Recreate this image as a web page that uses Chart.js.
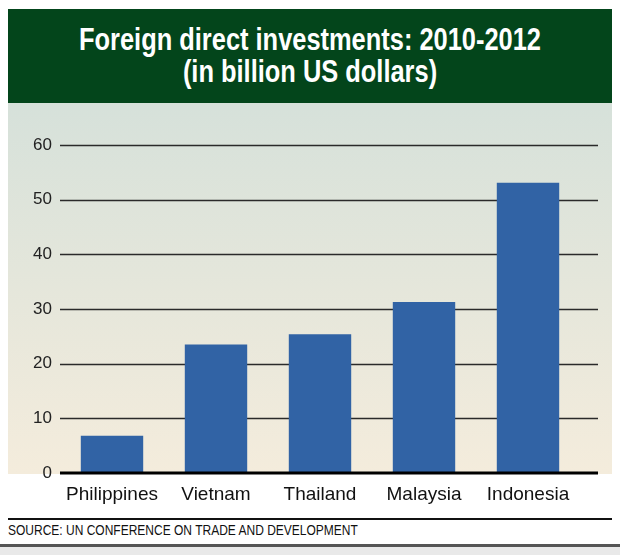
<!DOCTYPE html>
<html>
<head>
<meta charset="utf-8">
<script src="https://cdn.jsdelivr.net/npm/chart.js@4.4.0/dist/chart.umd.min.js"></script>
<style>
  html, body { margin: 0; padding: 0; background: #fff; width: 620px; height: 555px; overflow: hidden; }
  #header {
    position: absolute; left: 8px; top: 9px; width: 604px; height: 94px;
    background: #03451b; color: #fff; text-align: center;
  }
  #header div {
    font-family: "Liberation Sans Narrow", "Liberation Sans", Arial, sans-serif;
    font-weight: bold; font-size: 31px; line-height: 32px;
    transform: scaleX(0.82); transform-origin: center;
  }
  #wrap { position: absolute; left: 0; top: 103px; width: 620px; height: 412px; }
  #rule { position: absolute; left: 8px; top: 518px; width: 604px; height: 2px; background: #111; }
  #source {
    position: absolute; left: 8px; top: 521px; white-space: nowrap;
    font-family: "Liberation Sans", Arial, sans-serif; font-size: 15px; color: #111;
    transform: scaleX(0.8); transform-origin: left;
  }
  #foot { position: absolute; left: 0; top: 544px; width: 620px; height: 11px; background: #e9e9e9; border-top: 3px solid #555; }
</style>
</head>
<body>
<div id="header"><div style="margin-top:15px">Foreign direct investments: 2010-2012</div><div>(in billion US dollars)</div></div>
<div id="wrap"><canvas id="myChart" width="620" height="412"></canvas></div>
<div id="rule"></div>
<div id="source">SOURCE: UN CONFERENCE ON TRADE AND DEVELOPMENT</div>
<div id="foot"></div>
<script>
const countries = ['Philippines', 'Vietnam', 'Thailand', 'Malaysia', 'Indonesia'];
const fdiValues = [6.8, 23.5, 25.4, 31.3, 53.1];
const yTicks = [0, 10, 20, 30, 40, 50, 60];

// panel background + gridlines that run a bit past the bars
const panelPlugin = {
    id: 'panel',
    beforeDraw(chart) {
        const c = chart.ctx;
        const bottom = chart.chartArea.bottom;
        let g = c.createLinearGradient(0, 0, 0, bottom);
        g.addColorStop(0, '#d6e1da');
        g.addColorStop(1, '#f4ecdc');
        c.save();
        c.fillStyle = g;
        c.fillRect(8, 0, 604, bottom + 1);
        c.restore();
    },
    beforeDatasetsDraw(chart) {
        const c = chart.ctx;
        const y = chart.scales.y;
        c.save();
        yTicks.forEach(function (t) {
            if (t === 0) return;
            const py = Math.round(y.getPixelForValue(t)) + 0.5;
            c.strokeStyle = '#2a2a2a';
            c.lineWidth = 1.5;
            c.beginPath();
            c.moveTo(60, py);
            c.lineTo(598, py);
            c.stroke();
        });
        c.restore();
    },
    afterDatasetsDraw(chart) {
        const c = chart.ctx;
        const py = chart.scales.y.getPixelForValue(0);
        c.save();
        c.strokeStyle = '#000';
        c.lineWidth = 3;
        c.beginPath();
        c.moveTo(60, py);
        c.lineTo(598, py);
        c.stroke();
        c.restore();
    }
};

let ctx = document.getElementById('myChart');
let myChart = new Chart(ctx, {
    type: 'bar',
    data: {
        labels: countries,
        datasets: [{
            data: fdiValues,
            backgroundColor: '#3163a5',
            barPercentage: 0.6,
            categoryPercentage: 1.0
        }]
    },
    options: {
        responsive: false,
        animation: false,
        layout: { padding: { left: 0, right: 40, top: 42, bottom: 0 } },
        plugins: { legend: { display: false }, tooltip: { enabled: false } },
        scales: {
            x: {
                grid: { display: false, drawTicks: false },
                border: { display: false },
                ticks: { color: '#111', padding: 10, font: { family: 'Liberation Sans', size: 19 } },
                afterFit(s) { s.height = 42; }
            },
            y: {
                min: 0, max: 60,
                afterBuildTicks(s) { s.ticks = yTicks.map(v => ({ value: v })); },
                grid: { display: false, drawTicks: false },
                border: { display: false },
                ticks: { color: '#222', padding: 8, font: { family: 'Liberation Sans', size: 17 } },
                afterFit(s) { s.width = 60; }
            }
        }
    },
    plugins: [panelPlugin]
});
</script>
</body>
</html>
